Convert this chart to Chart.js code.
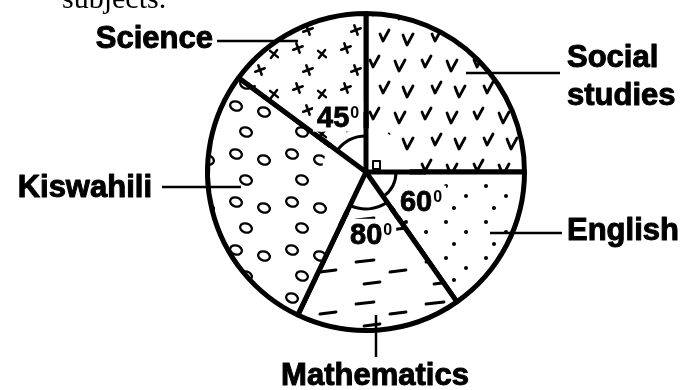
<!DOCTYPE html>
<html lang="en">
<head>
  <meta charset="UTF-8" />
  <title>Subjects pie chart</title>
  <script src="https://cdn.jsdelivr.net/npm/chart.js"></script>
  <style>
    body {
      margin: 0;
      background: #fff;
    }
    #wrap {
      width: 694px;
      height: 390px;
    }
  </style>
</head>
<body>
  <div id="wrap"><canvas id="pieChart"></canvas></div>

  <script>
    // slices as they are drawn in the picture, clockwise from the top
    const subjects = ['Social studies', 'English', 'Mathematics', 'Kiswahili', 'Science'];
    const drawnDegrees = [90, 55, 60.5, 101, 53.5];
    // the angle labels written inside the slices
    const angleLabels = ['', '60', '80', '', '45'];

    function makePattern(w, h, draw) {
      const c = document.createElement('canvas');
      c.width = w;
      c.height = h;
      const g = c.getContext('2d');
      g.fillStyle = '#fff';
      g.fillRect(0, 0, w, h);
      g.strokeStyle = '#000';
      g.fillStyle = '#000';
      g.lineWidth = 2.5;
      g.lineCap = 'round';
      g.lineJoin = 'round';
      draw(g);
      return g.createPattern(c, 'repeat');
    }

    const checks = makePattern(52, 52, g => {
      g.lineWidth = 2.8;
      [[10, 10], [36, 14], [20, 36], [44, 40]].forEach(([x, y], i) => {
        g.beginPath();
        g.moveTo(x - 4, y - 2);
        g.lineTo(x - 1, y + 5);
        g.lineTo(x + 5, y - 6);
        if (i % 2) g.moveTo(x - 1, y + 5), g.lineTo(x - 5, y - 5);
        g.stroke();
      });
    });

    const crosses = makePattern(48, 40, g => {
      [[10, 8], [34, 14], [20, 30]].forEach(([x, y], i) => {
        const t = i === 1 ? 0.9 : 0.35;
        const c = Math.cos(t) * 5, s = Math.sin(t) * 5;
        g.beginPath();
        g.moveTo(x - c, y + s);
        g.lineTo(x + c, y - s);
        g.moveTo(x - s, y - c);
        g.lineTo(x + s, y + c);
        g.stroke();
      });
    });

    const dots = makePattern(40, 36, g => {
      [[6, 6], [26, 16], [14, 28]].forEach(([x, y]) => {
        g.beginPath();
        g.arc(x, y, 2, 0, Math.PI * 2);
        g.fill();
      });
    });

    const dashes = makePattern(70, 42, g => {
      g.lineWidth = 2.8;
      [[6, 10, 24, 8], [40, 20, 56, 18], [14, 32, 30, 30]].forEach(([a, b, c, d]) => {
        g.beginPath();
        g.moveTo(a, b);
        g.lineTo(c, d);
        g.stroke();
      });
    });

    const ovals = makePattern(56, 48, g => {
      g.lineWidth = 2.3;
      [[12, 10], [40, 16], [22, 36]].forEach(([x, y]) => {
        g.beginPath();
        g.ellipse(x, y, 6, 4.5, 0.3, 0, Math.PI * 2);
        g.stroke();
      });
    });

    const sliceFills = [checks, dots, dashes, ovals, crosses];

    // labels, leader lines, angle marks
    const annotations = {
      id: 'annotations',
      afterDatasetsDraw(chart) {
        const ctx = chart.ctx;
        const arcs = chart.getDatasetMeta(0).data;
        const cx = arcs[0].x;
        const cy = arcs[0].y;
        const bw = arcs[0].options.borderWidth;
        ctx.save();
        ctx.strokeStyle = '#000';
        ctx.fillStyle = '#000';
        ctx.lineCap = 'butt';

        // keep the middle of the pie free of the fill marks
        ctx.fillStyle = '#fff';
        ctx.beginPath();
        ctx.arc(cx, cy, 44, 0, Math.PI * 2);
        ctx.fill();
        const label = { font: 'bold 29px "Liberation Sans", Arial, sans-serif', sup: 'bold 16px "Liberation Sans", Arial, sans-serif' };
        const boxes = [];
        arcs.forEach((arc, i) => {
          const txt = angleLabels[i];
          if (!txt) return;
          const mid = (arc.startAngle + arc.endAngle) / 2;
          const px = cx + Math.cos(mid) * 62;
          const py = cy + Math.sin(mid) * 62;
          ctx.font = label.font;
          const w1 = ctx.measureText(txt).width;
          ctx.font = label.sup;
          const w2 = ctx.measureText('0').width;
          const x0 = px - (w1 + w2 + 1) / 2;
          boxes.push({ txt, x0, base: py + 10.5, w1 });
          ctx.fillRect(x0 - 4, py - 15, w1 + w2 + 9, 30);
        });
        ctx.lineWidth = bw;
        ctx.strokeStyle = '#000';
        arcs.forEach(arc => {
          ctx.beginPath();
          ctx.moveTo(cx, cy);
          ctx.lineTo(cx + Math.cos(arc.startAngle) * 60, cy + Math.sin(arc.startAngle) * 60);
          ctx.stroke();
        });
        ctx.fillStyle = '#000';

        // leader lines
        ctx.lineWidth = 2.5;
        const leaders = [
          [cx + 100, cy - 99, cx + 194, cy - 99],
          [cx + 124, cy + 61, cx + 196, cy + 61],
          [cx + 10, cy + 143, cx + 10, cy + 185],
          [cx - 204, cy + 15, cx - 125, cy + 15],
          [cx - 149, cy - 131, cx - 68, cy - 131]
        ];
        leaders.forEach(([a, b, c, d]) => {
          ctx.beginPath();
          ctx.moveTo(a, b);
          ctx.lineTo(c, d);
          ctx.stroke();
        });

        // subject names, stroked a little to look as heavy as the print
        ctx.font = 'bold 31px "Liberation Sans", Arial, sans-serif';
        ctx.textBaseline = 'alphabetic';
        ctx.lineWidth = 1;
        ctx.lineJoin = 'round';
        const names = [
          ['Social', cx + 201, cy - 105, 'left'],
          ['studies', cx + 201, cy - 67, 'left'],
          [subjects[1], cx + 201, cy + 68, 'left'],
          [subjects[2], cx + 9, cy + 213, 'center'],
          [subjects[3], cx - 214, cy + 25, 'right'],
          [subjects[4], cx - 153, cy - 124, 'right']
        ];
        names.forEach(([t, x, y, align]) => {
          ctx.textAlign = align;
          ctx.fillText(t, x, y);
          ctx.strokeText(t, x, y);
        });

        // angle arcs
        ctx.lineWidth = 3;
        const arcRadius = [0, 30, 37, 0, 36];
        arcs.forEach((arc, i) => {
          if (!arcRadius[i]) return;
          ctx.beginPath();
          ctx.arc(cx, cy, arcRadius[i], arc.startAngle, arc.endAngle);
          ctx.stroke();
        });

        // right angle square for social studies
        ctx.lineWidth = 2;
        ctx.strokeRect(cx + 7, cy - 11, 7, 8);

        // degree labels
        ctx.lineWidth = 0.8;
        ctx.textAlign = 'left';
        boxes.forEach(b => {
          ctx.font = label.font;
          ctx.fillText(b.txt, b.x0, b.base);
          ctx.strokeText(b.txt, b.x0, b.base);
          ctx.font = label.sup;
          ctx.fillText('0', b.x0 + b.w1 + 1, b.base - 9.5);
        });

        // cut-off line of the question text above the chart
        ctx.font = '30px "Liberation Serif", "Times New Roman", serif';
        ctx.fillText('subjects.', 62, 8);
        ctx.restore();
      }
    };

    new Chart(document.getElementById('pieChart'), {
      type: 'pie',
      data: {
        labels: subjects,
        datasets: [{
          data: drawnDegrees,
          backgroundColor: sliceFills,
          borderColor: '#000',
          borderWidth: 5,
          hoverOffset: 0
        }]
      },
      options: {
        responsive: true,
        maintainAspectRatio: false,
        animation: false,
        layout: {
          padding: { top: 11, bottom: 57, left: 38, right: 0 }
        },
        plugins: {
          legend: { display: false },
          tooltip: { enabled: false }
        }
      },
      plugins: [annotations]
    });
  </script>
</body>
</html>
